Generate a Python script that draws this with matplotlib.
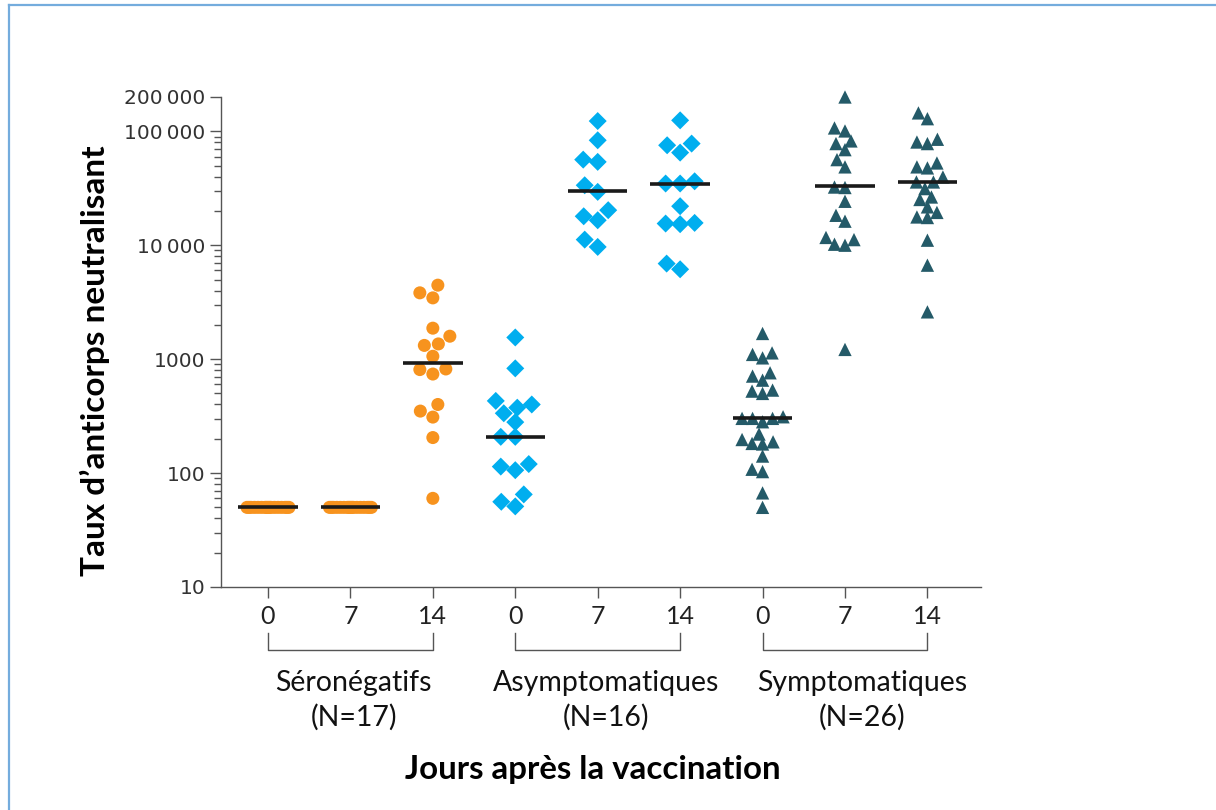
import numpy as np
import matplotlib
matplotlib.use("Agg")
import matplotlib.pyplot as plt
import matplotlib.transforms as mtransforms
from matplotlib.lines import Line2D
from matplotlib.ticker import FixedLocator, LogLocator, NullFormatter

# ---------------- data ----------------
group_names = ["Séronégatifs", "Asymptomatiques", "Symptomatiques"]
group_n = ["(N=17)", "(N=16)", "(N=26)"]
day_labels = ["0", "7", "14"]

sero_d0 = [50] * 17
sero_d7 = [50] * 17
sero_d14 = [3820, 3450, 4460, 1590, 1320, 1360, 1870, 1060, 810, 740, 820,
            400, 310, 350, 205, 60]

asym_d0 = [1550, 830, 430, 400, 375, 335, 280, 208, 208, 114, 106, 120,
           65, 51, 56]
asym_d7 = [123000, 83400, 56400, 53900, 33600, 29400, 17950, 16560, 20300,
           9660, 11200]
asym_d14 = [124800, 75400, 78000, 65000, 36400, 34800, 34800, 22000, 15500,
            15300, 15700, 6150, 6900]

sym_d0 = [1680, 1135, 1026, 1100, 710, 759, 654, 535, 500, 524, 302, 302,
          282, 302, 312, 220, 188, 180, 182, 197, 141, 108, 103, 67, 50]
sym_d7 = [200000, 107000, 100700, 82300, 78000, 69000, 56400, 48700, 32400,
          32100, 24300, 16250, 18300, 11700, 10200, 10000, 11200, 1217]
sym_d14 = [145000, 129000, 85100, 78000, 80500, 48700, 47700, 52700, 39700,
           35900, 35900, 31400, 26500, 25200, 21700, 17700, 17500, 19400,
           11070, 6680, 2600]

medians = [50, 50, 929, 208, 29800, 34800, 306, 32900, 35700]

ytick_values = [10, 100, 1000, 10000, 100000, 200000]
ytick_labels = ["10", "100", "1000", "10\u2009000", "100\u2009000", "200\u2009000"]

series = [sero_d0, sero_d7, sero_d14, asym_d0, asym_d7, asym_d14,
          sym_d0, sym_d7, sym_d14]

# ---------------- styles ----------------
colors = ["#F7931E", "#00AEEF", "#245A68"]
markers = ["o", "D", "^"]
msizes = [88, 84, 92]          # scatter sizes (pt^2)
coll_px = [13.5, 14.5, 10.5]   # swarm collision distance (px)
max_px = 21                    # max half spread of swarm (px)

W, H, DPI = 12.16, 8.10, 100
fig = plt.figure(figsize=(W, H), dpi=DPI)
fig.patch.set_facecolor("white")

ax = fig.add_axes([221 / 1216, 223 / 810, 760 / 1216, 490 / 810])
ax.set_yscale("log")
ax.set_ylim(10, 200000)
ax.set_xlim(-0.57, 8.65)

px_per_unit = 760 / (8.65 + 0.57)


def swarm_x(vals, center, d_px):
    vals = np.asarray(vals, dtype=float)
    pts = ax.transData.transform(np.column_stack([np.full(len(vals), center), vals]))
    ypx = pts[:, 1]
    order = np.argsort(ypx, kind="stable")
    cands = sorted(np.arange(-max_px, max_px + 0.01, 0.5), key=lambda c: (abs(c), c))
    placed = []
    offs = np.zeros(len(vals))
    for i in order:
        y = ypx[i]
        chosen = None
        for c in cands:
            if all((c - px) ** 2 + (y - py) ** 2 >= d_px ** 2 for px, py in placed):
                chosen = c
                break
        if chosen is None:
            chosen = max(cands, key=lambda c: min((c - px) ** 2 + (y - py) ** 2
                                                   for px, py in placed))
        offs[i] = chosen
        placed.append((chosen, y))
    return center + offs / px_per_unit


for i, vals in enumerate(series):
    g = i // 3
    xs = swarm_x(vals, i, coll_px[g])
    ax.scatter(xs, vals, s=msizes[g], marker=markers[g], color=colors[g],
               edgecolors="none", zorder=3, clip_on=False)
    ax.plot([i - 0.36, i + 0.36], [medians[i]] * 2, color="#1a1a1a",
            lw=2.6, solid_capstyle="butt", zorder=4)

# axes styling
for s in ["top", "right"]:
    ax.spines[s].set_visible(False)
for s in ["left", "bottom"]:
    ax.spines[s].set_color("#555555")
    ax.spines[s].set_linewidth(1.0)

ax.yaxis.set_major_locator(FixedLocator(ytick_values))
ax.set_yticklabels(ytick_labels)
ax.yaxis.set_minor_locator(LogLocator(base=10, subs=np.arange(2, 10), numticks=20))
ax.yaxis.set_minor_formatter(NullFormatter())
ax.tick_params(axis="y", which="major", length=8, width=1, color="#555555",
               labelsize=14.5, labelcolor="#333333", pad=3)
ax.tick_params(axis="y", which="minor", length=5, width=1, color="#555555")

ax.set_xticks(range(9))
ax.set_xticklabels(day_labels * 3, family="Lato", fontsize=18, color="#222222")
ax.tick_params(axis="x", which="major", length=8, width=1, color="#555555", pad=5)

# brackets and group labels
trans = mtransforms.blended_transform_factory(ax.transData, ax.transAxes)
y_top = (587 - 633) / 490
y_bot = (587 - 650) / 490
label_x = [1.04, 4.10, 7.21]
for g in range(3):
    x0, x1 = 3 * g, 3 * g + 2
    ax.add_line(Line2D([x0, x0, x1, x1], [y_top, y_bot, y_bot, y_top],
                       transform=trans, color="#555555", lw=1.0, clip_on=False))
    ax.text(label_x[g], (587 - 683) / 490, group_names[g], transform=trans,
            ha="center", va="center", family="Lato", fontsize=20.5, color="#111111")
    ax.text(label_x[g], (587 - 717) / 490, group_n[g], transform=trans,
            ha="center", va="center", family="Lato", fontsize=20.5, color="#111111")

fig.text(593 / 1216, 1 - 770 / 810, "Jours après la vaccination", ha="center",
         va="center", family="Lato", fontweight="bold", fontsize=23.8, color="black")
fig.text(95 / 1216, 1 - 361 / 810, "Taux d\u2019anticorps neutralisant", ha="center",
         va="center", rotation=90, family="Lato", fontweight="bold", fontsize=24,
         color="black")

# frame lines of the original figure box
fig.add_artist(Line2D([9 / 1216, 9 / 1216], [0, 1 - 5 / 810], transform=fig.transFigure,
                      color="#74ACDD", lw=1.6))
fig.add_artist(Line2D([9 / 1216, 1], [1 - 5 / 810, 1 - 5 / 810], transform=fig.transFigure,
                      color="#74ACDD", lw=1.6))

fig.savefig("out.png", dpi=DPI, facecolor="white")
